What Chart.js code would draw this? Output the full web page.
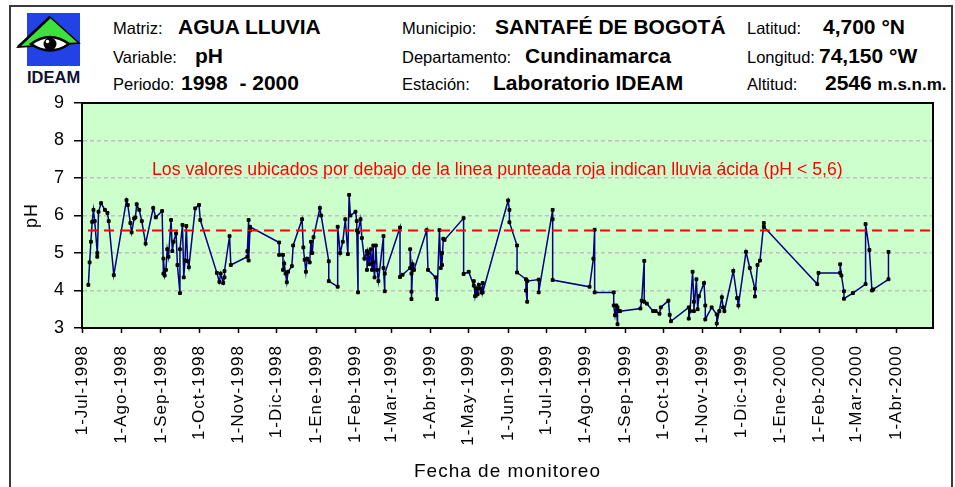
<!DOCTYPE html>
<html>
<head>
  <meta charset="utf-8">
  <title>pH agua lluvia - Santafé de Bogotá</title>
  <style>
    html, body {
      margin: 0;
      padding: 0;
      background: #ffffff;
    }
    body {
      width: 955px;
      height: 487px;
      position: relative;
      overflow: hidden;
      font-family: "Liberation Sans", Arial, sans-serif;
    }
    .marco {
      position: absolute;
      left: 9px;
      top: 5px;
      width: 940px;
      height: 600px;
      border: 2px solid #3a3a3a;
    }
    #cabecera, #grafico {
      position: absolute;
      left: 0;
      top: 0;
    }
  </style>
  <script src="https://cdn.jsdelivr.net/npm/chart.js"></script>
</head>
<body>
  <div class="marco"></div>

  <!-- Logo y ficha de la estación -->
  <svg id="cabecera" width="955" height="100" font-family="Liberation Sans, Arial, sans-serif">
    <rect x="27" y="13" width="53" height="53" fill="#2342e6"/>
    <polygon points="50,17 18,47 79,43" fill="#3ee03e" stroke="#000" stroke-width="1.5"/>
    <line x1="50" y1="17" x2="18" y2="47" stroke="#000" stroke-width="2.5"/>
    <path d="M31,44 Q50,30 69,44 Q50,57 31,44 Z" fill="#fff" stroke="#000" stroke-width="2.5"/>
    <circle cx="50" cy="44" r="6.5" fill="#000"/>
    <circle cx="47.5" cy="41.5" r="1.8" fill="#fff"/>
    <text x="27" y="83" font-size="16.5" font-weight="bold" fill="#101030">IDEAM</text>

    <g font-size="16.5" fill="#000">
      <text x="113" y="34">Matriz:</text>
      <text x="113" y="63">Variable:</text>
      <text x="113" y="90">Periodo:</text>
      <text x="402" y="34">Municipio:</text>
      <text x="402" y="63">Departamento:</text>
      <text x="402" y="90">Estación:</text>
      <text x="747" y="34">Latitud:</text>
      <text x="747" y="63">Longitud:</text>
      <text x="747" y="90">Altitud:</text>
    </g>
    <g font-size="21" font-weight="bold" fill="#000">
      <text x="178" y="34">AGUA LLUVIA</text>
      <text x="195" y="63">pH</text>
      <text x="181" y="90">1998&#160; - 2000</text>
      <text x="495" y="34">SANTAFÉ DE BOGOTÁ</text>
      <text x="525" y="63">Cundinamarca</text>
      <text x="493" y="90">Laboratorio IDEAM</text>
      <text x="823" y="34">4,700 °N</text>
      <text x="819" y="63">74,150 °W</text>
      <text x="825" y="90">2546 <tspan font-size="17">m.s.n.m.</tspan></text>
    </g>
  </svg>

  <canvas id="grafico" width="955" height="487"></canvas>

  <script>
    // Fechas de muestreo y pH medido
    var fechas = [
      '1998-07-06', '1998-07-07', '1998-07-08', '1998-07-09', '1998-07-10', '1998-07-11', '1998-07-13', '1998-07-13',
      '1998-07-14', '1998-07-16', '1998-07-19', '1998-07-21', '1998-07-22', '1998-07-26', '1998-08-05', '1998-08-06',
      '1998-08-08', '1998-08-09', '1998-08-11', '1998-08-12', '1998-08-13', '1998-08-15', '1998-08-17', '1998-08-20',
      '1998-08-26', '1998-08-28', '1998-09-02', '1998-09-03', '1998-09-03', '1998-09-04', '1998-09-05', '1998-09-06',
      '1998-09-07', '1998-09-09', '1998-09-10', '1998-09-11', '1998-09-13', '1998-09-14', '1998-09-16', '1998-09-16',
      '1998-09-18', '1998-09-19', '1998-09-20', '1998-09-21', '1998-09-22', '1998-09-23', '1998-09-28', '1998-10-01',
      '1998-10-02', '1998-10-15', '1998-10-17', '1998-10-18', '1998-10-20', '1998-10-21', '1998-10-21', '1998-10-25',
      '1998-10-26', '1998-11-08', '1998-11-08', '1998-11-09', '1998-11-09', '1998-11-10', '1998-11-10', '1998-12-03',
      '1998-12-03', '1998-12-06', '1998-12-06', '1998-12-07', '1998-12-08', '1998-12-09', '1998-12-10', '1998-12-13',
      '1998-12-14', '1998-12-21', '1998-12-22', '1998-12-23', '1998-12-24', '1998-12-25', '1998-12-27', '1998-12-28',
      '1998-12-29', '1998-12-30', '1999-01-04', '1999-01-05', '1999-01-11', '1999-01-11', '1999-01-18', '1999-01-18',
      '1999-01-20', '1999-01-22', '1999-01-24', '1999-01-26', '1999-01-27', '1999-01-28', '1999-02-01', '1999-02-02',
      '1999-02-02', '1999-02-03', '1999-02-03', '1999-02-05', '1999-02-06', '1999-02-08', '1999-02-10', '1999-02-10',
      '1999-02-11', '1999-02-12', '1999-02-13', '1999-02-14', '1999-02-15', '1999-02-15', '1999-02-16', '1999-02-17',
      '1999-02-18', '1999-02-19', '1999-02-23', '1999-02-23', '1999-02-24', '1999-02-24', '1999-03-08', '1999-03-08',
      '1999-03-10', '1999-03-16', '1999-03-16', '1999-03-17', '1999-03-17', '1999-03-17', '1999-03-18', '1999-03-19',
      '1999-03-29', '1999-03-30', '1999-04-05', '1999-04-06', '1999-04-08', '1999-04-09', '1999-04-10', '1999-04-10',
      '1999-04-11', '1999-04-12', '1999-04-27', '1999-04-27', '1999-05-01', '1999-05-05', '1999-05-05', '1999-05-06',
      '1999-05-07', '1999-05-08', '1999-05-09', '1999-05-10', '1999-05-11', '1999-05-12', '1999-05-12', '1999-06-01',
      '1999-06-02', '1999-06-02', '1999-06-08', '1999-06-08', '1999-06-15', '1999-06-15', '1999-06-16', '1999-06-16',
      '1999-06-25', '1999-06-25', '1999-07-06', '1999-07-06', '1999-07-06', '1999-08-04', '1999-08-07', '1999-08-08',
      '1999-08-08', '1999-08-23', '1999-08-23', '1999-08-24', '1999-08-25', '1999-08-26', '1999-08-26', '1999-08-27',
      '1999-08-28', '1999-09-13', '1999-09-14', '1999-09-16', '1999-09-16', '1999-09-18', '1999-09-23', '1999-09-25',
      '1999-09-28', '1999-09-29', '1999-10-05', '1999-10-06', '1999-10-07', '1999-10-21', '1999-10-21', '1999-10-22',
      '1999-10-24', '1999-10-25', '1999-10-25', '1999-10-27', '1999-10-28', '1999-10-29', '1999-11-02', '1999-11-03',
      '1999-11-03', '1999-11-08', '1999-11-12', '1999-11-12', '1999-11-14', '1999-11-16', '1999-11-17', '1999-11-18',
      '1999-11-25', '1999-11-28', '1999-11-29', '1999-12-05', '1999-12-08', '1999-12-12', '1999-12-12', '1999-12-14',
      '1999-12-16', '1999-12-19', '1999-12-19', '2000-01-30', '2000-01-31', '2000-02-17', '2000-02-17', '2000-02-18',
      '2000-02-20', '2000-02-20', '2000-02-27', '2000-03-08', '2000-03-08', '2000-03-11', '2000-03-13', '2000-03-14',
      '2000-03-26', '2000-03-26'
    ];
    var valoresPH = [
      4.15, 4.75, 5.30, 5.83, 6.15, 5.85, 5.00, 4.90,
      6.10, 6.33, 6.15, 6.07, 5.85, 4.41, 6.41, 6.28,
      5.80, 5.55, 5.92, 5.95, 6.30, 6.15, 5.85, 5.25,
      6.20, 5.95, 6.12, 4.45, 4.85, 4.40, 4.55, 5.10,
      4.90, 5.88, 5.05, 5.30, 5.52, 4.68, 3.93, 5.10,
      5.75, 4.35, 4.80, 5.72, 4.78, 4.62, 6.19, 6.28,
      5.88, 4.47, 4.23, 4.45, 4.20, 4.35, 4.52, 5.45,
      4.68, 4.90, 5.05, 5.88, 4.80, 5.60, 5.70, 5.28,
      4.95, 4.95, 4.55, 4.72, 4.45, 4.22, 4.50, 4.65,
      5.20, 5.90, 5.15, 4.82, 4.50, 4.85, 4.75, 5.30,
      5.00, 5.42, 6.20, 6.00, 4.78, 4.25, 4.10, 5.70,
      5.00, 5.30, 5.90, 4.97, 6.55, 6.00, 6.10, 5.85,
      5.60, 3.95, 5.55, 5.90, 5.40, 4.85, 5.05, 4.55,
      5.00, 4.70, 5.10, 4.55, 5.20, 4.75, 4.35, 5.20,
      4.55, 4.25, 5.45, 4.60, 3.98, 4.45, 5.68, 4.36,
      4.42, 4.60, 5.10, 4.45, 3.97, 3.77, 4.70, 4.55,
      5.61, 4.55, 4.35, 3.77, 5.61, 4.60, 5.00, 4.68,
      5.38, 5.35, 5.93, 4.44, 4.50, 4.13, 4.25, 3.85,
      4.05, 3.90, 4.15, 4.05, 3.95, 4.20, 3.95, 6.40,
      6.15, 5.82, 5.20, 4.48, 4.30, 4.00, 3.70, 4.25,
      4.29, 3.95, 6.15, 5.90, 4.28, 4.10, 4.85, 5.62,
      3.95, 3.95, 3.60, 3.34, 3.60, 3.10, 3.55, 3.45,
      3.45, 3.52, 3.73, 4.79, 3.70, 3.65, 3.45, 3.45,
      3.38, 3.55, 3.73, 3.35, 3.18, 3.55, 3.25, 3.45,
      4.50, 3.70, 3.45, 4.30, 3.50, 3.85, 4.20, 3.60,
      3.23, 3.55, 3.36, 3.12, 3.45, 3.82, 3.55, 3.45,
      4.52, 3.80, 3.60, 5.03, 4.60, 4.05, 3.84, 4.68,
      4.80, 5.80, 5.70, 4.17, 4.47, 4.47, 4.70, 4.40,
      3.98, 3.78, 3.93, 4.17, 5.77, 5.08, 4.00, 4.03,
      4.30, 5.03
    ];

    // Eje de fechas: marcas mensuales y sus etiquetas
    var marcasX = [
      '1998-07-01', '1998-08-01', '1998-09-01', '1998-10-01', '1998-11-01', '1998-12-01',
      '1999-01-01', '1999-02-01', '1999-03-01', '1999-04-01', '1999-05-01', '1999-06-01',
      '1999-07-01', '1999-08-01', '1999-09-01', '1999-10-01', '1999-11-01', '1999-12-01',
      '2000-01-01', '2000-02-01', '2000-03-01', '2000-04-01'
    ];
    var etiquetasX = [
      '1-Jul-1998', '1-Ago-1998', '1-Sep-1998', '1-Oct-1998', '1-Nov-1998', '1-Dic-1998',
      '1-Ene-1999', '1-Feb-1999', '1-Mar-1999', '1-Abr-1999', '1-May-1999', '1-Jun-1999',
      '1-Jul-1999', '1-Ago-1999', '1-Sep-1999', '1-Oct-1999', '1-Nov-1999', '1-Dic-1999',
      '1-Ene-2000', '1-Feb-2000', '1-Mar-2000', '1-Abr-2000'
    ];
    var rangoX = ['1998-07-01', '2000-04-30'];

    // Límite de lluvia ácida
    var umbralPH = 5.6;
    var nota = 'Los valores ubicados por debajo de la linea punteada roja indican lluvia ácida (pH < 5,6)';

    var fuente = '"Liberation Sans", Arial, sans-serif';

    // días desde el 1-Jul-1998
    var origen = Date.UTC(1998, 6, 1);
    function dia(f) {
      var p = f.split('-').map(Number);
      return (Date.UTC(p[0], p[1] - 1, p[2]) - origen) / 86400000;
    }

    var puntos = fechas.map(function(f, i) {
      return { x: dia(f), y: valoresPH[i] };
    });
    var xMin = dia(rangoX[0]);
    var xMax = dia(rangoX[1]);

    // Fondo verde, marco del área y texto de la nota
    var areaGrafico = {
      id: 'areaGrafico',
      beforeLayout: function(chart) {
        chart.ctx.letterSpacing = '1px';
      },
      beforeDraw: function(chart) {
        var ctx = chart.ctx, a = chart.chartArea;
        ctx.letterSpacing = '1px';
        ctx.save();
        ctx.fillStyle = '#ccffcc';
        ctx.fillRect(a.left, a.top, a.right - a.left, a.bottom - a.top);
        ctx.restore();
      },
      beforeDatasetsDraw: function(chart) {
        var ctx = chart.ctx, a = chart.chartArea;
        ctx.save();
        ctx.letterSpacing = '0px';
        ctx.font = '17.7px ' + fuente;
        ctx.fillStyle = '#ff0000';
        ctx.textAlign = 'left';
        ctx.textBaseline = 'alphabetic';
        ctx.fillText(nota, a.left + 70, chart.scales.y.getPixelForValue(7.08));
        ctx.restore();
      },
      afterDraw: function(chart) {
        var ctx = chart.ctx, a = chart.chartArea;
        ctx.save();
        ctx.strokeStyle = '#000';
        ctx.lineWidth = 2;
        ctx.strokeRect(a.left, a.top, a.right - a.left, a.bottom - a.top);
        ctx.restore();
      }
    };

    var ctx = document.getElementById('grafico').getContext('2d');
    var grafico = new Chart(ctx, {
      type: 'line',
      data: {
        datasets: [
          {
            label: 'pH',
            data: puntos,
            borderColor: '#000080',
            borderWidth: 1.5,
            tension: 0,
            pointStyle: 'rect',
            pointRadius: 2,
            pointBackgroundColor: '#000',
            pointBorderColor: '#000',
            pointBorderWidth: 1,
            order: 1
          },
          {
            label: 'pH 5,6',
            data: [{ x: xMin, y: umbralPH }, { x: xMax, y: umbralPH }],
            borderColor: '#ff0000',
            borderWidth: 2,
            borderDash: [10, 6],
            borderDashOffset: 10,
            pointRadius: 0,
            order: 0
          }
        ]
      },
      options: {
        responsive: false,
        animation: false,
        events: [],
        layout: { padding: { left: 12, top: 103, right: 22, bottom: 0 } },
        plugins: {
          legend: { display: false },
          tooltip: { enabled: false }
        },
        scales: {
          x: {
            type: 'linear',
            min: xMin,
            max: xMax,
            afterBuildTicks: function(scale) {
              scale.ticks = marcasX.map(function(f) { return { value: dia(f) }; });
            },
            afterFit: function(scale) {
              scale.height = 159;
            },
            ticks: {
              autoSkip: false,
              minRotation: 90,
              maxRotation: 90,
              padding: 12,
              color: '#000',
              font: { family: fuente, size: 17 },
              callback: function(value, index) { return etiquetasX[index]; }
            },
            grid: {
              drawOnChartArea: false,
              drawTicks: true,
              tickLength: 5,
              tickColor: '#000',
              tickWidth: 1.5
            },
            border: { color: '#000', width: 2 },
            title: {
              display: true,
              text: 'Fecha de monitoreo',
              color: '#000',
              font: { family: fuente, size: 19 },
              padding: { top: 0, bottom: 4 }
            }
          },
          y: {
            min: 3,
            max: 9,
            afterFit: function(scale) {
              scale.width = 70;
            },
            ticks: {
              stepSize: 1,
              padding: 9,
              color: '#000',
              font: { family: fuente, size: 18 }
            },
            grid: {
              color: function(c) {
                return (c.tick && (c.tick.value === 3 || c.tick.value === 9)) ? 'rgba(0,0,0,0)' : '#c0c0c0';
              },
              lineWidth: 1.5,
              drawTicks: true,
              tickLength: 8,
              tickColor: '#000',
              tickWidth: 1.5,
              tickBorderDash: []
            },
            border: { color: '#000', width: 2, dash: [4, 3] },
            title: {
              display: true,
              text: 'pH',
              color: '#000',
              font: { family: fuente, size: 18 },
              padding: { top: 9, bottom: 0 }
            }
          }
        }
      },
      plugins: [areaGrafico]
    });
  </script>
</body>
</html>
